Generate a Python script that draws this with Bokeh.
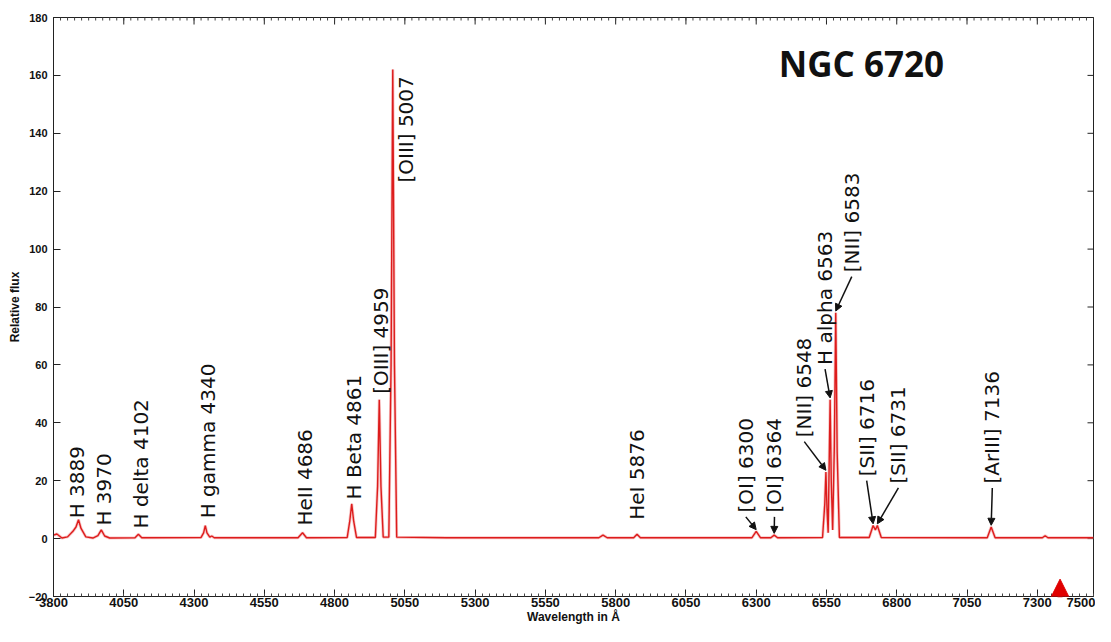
import math
from bokeh.plotting import figure
from bokeh.models import ColumnDataSource, Range1d, FixedTicker, Arrow, NormalHead, Label
from bokeh.core.properties import value
from bokeh.embed import file_html
from bokeh.resources import INLINE

# spectrum (wavelength in A, relative flux)
wavelength = [3800, 3812, 3830, 3850, 3869, 3880, 3889, 3898, 3915, 3940, 3958, 3970, 3982, 4000,
              4090, 4102, 4114, 4325, 4334, 4340, 4346, 4356, 4363, 4372, 4670, 4686, 4700,
              4845, 4854, 4861, 4868, 4878, 4945, 4953, 4959, 4965, 4973, 4993, 5001, 5007, 5013, 5021,
              5200, 5740, 5755, 5770, 5864, 5876, 5888, 6285, 6300, 6315, 6352, 6364, 6376,
              6536, 6544, 6548, 6552, 6556, 6559, 6563, 6567, 6572, 6578, 6583, 6588, 6596,
              6702, 6716, 6724, 6731, 6745, 7122, 7136, 7150, 7318, 7328, 7338, 7500]
flux = [1.2, 1.6, 0.2, 0.6, 2.5, 4.0, 6.5, 3.5, 0.6, 0.2, 1.0, 3.0, 0.9, 0.2,
        0.3, 1.5, 0.3, 0.4, 2.0, 4.5, 2.0, 0.5, 0.9, 0.3, 0.3, 2.0, 0.3,
        0.4, 6.0, 12.0, 6.0, 0.4, 0.4, 18.0, 48.0, 18.0, 0.5, 0.5, 60.0, 162.0, 60.0, 0.5,
        0.3, 0.3, 1.2, 0.3, 0.3, 1.5, 0.3, 0.3, 2.5, 0.3, 0.3, 1.2, 0.3,
        0.4, 12.0, 23.0, 10.0, 2.0, 22.0, 48.0, 20.0, 3.0, 32.0, 78.0, 30.0, 0.4,
        0.4, 4.5, 3.0, 4.5, 0.4, 0.3, 4.0, 0.3, 0.3, 1.0, 0.3, 0.3]

# emission lines
line_names = ["H 3889", "H 3970", "H delta 4102", "H gamma 4340", "HeII 4686", "H Beta 4861",
              "[OIII] 4959", "[OIII] 5007", "HeI 5876", "[OI] 6300", "[OI] 6364", "[NII] 6548",
              "H alpha 6563", "[NII] 6583", "[SII] 6716", "[SII] 6731", "[ArIII] 7136"]
line_wl = [3889, 3970, 4102, 4340, 4686, 4861, 4959, 5007, 5876, 6300, 6364, 6548,
           6563, 6583, 6716, 6731, 7136]
line_peak = [6.5, 3.0, 1.5, 4.5, 2.0, 12.0, 48.0, 162.0, 1.5, 2.5, 1.2, 23.0,
             48.0, 78.0, 4.5, 4.5, 4.0]

# where the labels sit and which get an arrow
label_x = [3882, 3978, 4112, 4350, 4694, 4870, 4966, 5054, 5876, 6263, 6365, 6471,
           6545, 6640, 6693, 6806, 7140]
label_y = [7, 4.5, 3.5, 7, 4.5, 13.5, 50, 123, 6.5, 9, 9, 35, 60, 92, 21.5, 19, 19]
has_arrow = [False] * 9 + [True] * 8

x_ticks = [3800, 4050, 4300, 4550, 4800, 5050, 5300, 5550, 5800, 6050, 6300, 6550, 6800, 7050, 7300, 7500]
y_ticks = [-20, 0, 20, 40, 60, 80, 100, 120, 140, 160, 180]
x_minor = list(range(3800, 7501, 25))

title_text = "NGC 6720"
marker_wl = 7381

x0, x1 = 3800, 7500
y0, y1 = -20, 180

p = figure(width=1095, height=626, x_range=Range1d(x0, x1), y_range=Range1d(y0, y1),
           output_backend="svg", toolbar_location=None,
           min_border_left=53, min_border_right=2, min_border_top=17, min_border_bottom=28,
           outline_line_color="#222222")
p.xgrid.visible = False
p.ygrid.visible = False

p.xaxis.ticker = FixedTicker(ticks=x_ticks, minor_ticks=x_minor)
p.yaxis.ticker = FixedTicker(ticks=y_ticks)
for ax in [p.xaxis[0], p.yaxis[0]]:
    ax.axis_line_color = "#222222"
    ax.major_tick_line_color = "#222222"
    ax.minor_tick_line_color = "#444444"
    ax.major_tick_in = 7
    ax.major_tick_out = 0
    ax.minor_tick_in = 3
    ax.minor_tick_out = 0
    ax.major_label_text_font = "Liberation Sans"
    ax.major_label_text_font_style = "bold"
    ax.major_label_text_color = "#111111"
    ax.axis_label_text_font = "Liberation Sans"
    ax.axis_label_text_font_style = "bold"
    ax.axis_label_text_color = "#111111"

p.xaxis.major_label_text_font_size = "13px"
p.xaxis.major_label_standoff = 1
p.xaxis.axis_label = "Wavelength in Å"
p.xaxis.axis_label_text_font_size = "12px"
p.xaxis.axis_label_standoff = 0
p.yaxis.major_label_text_font_size = "11px"
p.yaxis.major_label_standoff = 6
p.yaxis.minor_tick_line_color = None
p.yaxis.axis_label = "Relative flux"
p.yaxis.axis_label_text_font_size = "12px"
p.yaxis.axis_label_standoff = 4

# ticks along the top and right edges of the frame (only the inner half shows)
p.scatter(x=x_ticks, y=[y1] * len(x_ticks), marker="dash", angle=math.pi / 2, size=14,
          line_color="#222222", line_width=1)
p.scatter(x=x_minor, y=[y1] * len(x_minor), marker="dash", angle=math.pi / 2, size=6,
          line_color="#444444", line_width=1)
p.scatter(x=[x1] * len(y_ticks), y=y_ticks, marker="dash", size=12,
          line_color="#222222", line_width=1)

src = ColumnDataSource(data=dict(x=wavelength, y=flux))
p.line(x="x", y="y", source=src, color="#f4a0a0", line_width=3, alpha=0.6)
p.line(x="x", y="y", source=src, color="#dd1c1c", line_width=1.4)

lab = ColumnDataSource(data=dict(x=label_x, y=label_y, t=line_names))
p.text(x="x", y="y", text="t", source=lab, angle=math.pi / 2, text_align="left",
       text_baseline="middle", text_font=value("DejaVu Sans"), text_font_size="20px",
       text_color="#111111")

for i in range(len(line_names)):
    if not has_arrow[i]:
        continue
    p.add_layout(Arrow(end=NormalHead(size=7, fill_color="#111111", line_color="#111111"),
                       x_start=label_x[i], y_start=label_y[i] - 1.5,
                       x_end=line_wl[i], y_end=line_peak[i] + 0.6,
                       line_color="#111111", line_width=1.5))

p.add_layout(Label(x=6380, y=164, text=title_text, text_font="Open Sans", text_font_style="bold",
                   text_font_size="35px", text_color="#111111", text_baseline="alphabetic"))

# red pointer at the bottom right
p.add_layout(Arrow(end=NormalHead(size=18, fill_color="#e00000", line_color="#e00000"),
                   x_start=marker_wl, y_start=-40, x_end=marker_wl, y_end=-14,
                   line_color="#e00000", line_width=5))

open("out.html", "w").write(file_html(p, INLINE))
